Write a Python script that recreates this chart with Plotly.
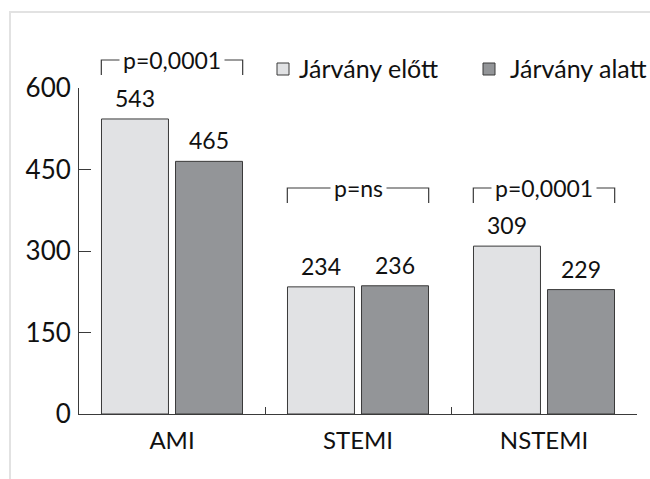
import plotly.graph_objects as go

categories = ["AMI", "STEMI", "NSTEMI"]
series_names = ["Járvány előtt", "Járvány alatt"]
before = [543, 234, 309]
during = [465, 236, 229]
p_values = ["p=0,0001", "p=ns", "p=0,0001"]
y_ticks = [0, 150, 300, 450, 600]

colors = ["#e1e2e4", "#939598"]
edge = "#3a3a3a"
font_family = "Lato"
W, H = 650, 479
PLOT_L, PLOT_R, PLOT_T, PLOT_B = 79, 637, 88, 414  # page pixel coords of plot area
ML, MR, MT, MB = PLOT_L, W - PLOT_R, PLOT_T, H - PLOT_B
PW, PH = PLOT_R - PLOT_L, PLOT_B - PLOT_T


def px2paper_x(px):
    return (px - PLOT_L) / PW


def px2paper_y(py):
    return (PLOT_B - py) / PH


fig = go.Figure()
for name, vals, col in zip(series_names, [before, during], colors):
    fig.add_trace(go.Bar(
        x=categories, y=vals, name=name,
        marker=dict(color=col, line=dict(color=edge, width=1)),
        showlegend=False, hoverinfo="skip",
    ))

shapes = []
annotations = []

# frame
frame_col = "#e2e2e2"
shapes.append(dict(type="line", xref="paper", yref="paper",
                   x0=px2paper_x(10), x1=px2paper_x(660), y0=px2paper_y(12), y1=px2paper_y(12),
                   line=dict(color=frame_col, width=2)))
shapes.append(dict(type="line", xref="paper", yref="paper",
                   x0=px2paper_x(10), x1=px2paper_x(10), y0=px2paper_y(11), y1=px2paper_y(490),
                   line=dict(color=frame_col, width=2)))

# value labels
half_slot = (1 - 0.204) / 4
for si, vals in enumerate([before, during]):
    off = -half_slot if si == 0 else half_slot
    for i, v in enumerate(vals):
        annotations.append(dict(x=i + off, y=v, xref="x", yref="y", text=str(v),
                                showarrow=False, yanchor="bottom", yshift=5,
                                font=dict(size=23, color="#111", family=font_family)))

# significance brackets
bracket_top_px = [60, 188, 188]
leg_px = 15
for i, (p, top) in enumerate(zip(p_values, bracket_top_px)):
    xl = (i + 0.5 - 0.38) / 3
    xr = (i + 0.5 + 0.38) / 3
    yt = px2paper_y(top)
    yb = px2paper_y(top + leg_px)
    shapes.append(dict(type="path", xref="paper", yref="paper",
                       path=f"M{xl},{yb} L{xl},{yt} L{xr},{yt} L{xr},{yb}",
                       line=dict(color=edge, width=1.2)))
    annotations.append(dict(x=(i + 0.5) / 3, y=yt, xref="paper", yref="paper", text=p,
                            showarrow=False, yanchor="middle", xanchor="center",
                            bgcolor="white", borderpad=3,
                            font=dict(size=23, color="#111", family=font_family)))

# manual legend
legend_items = [(277, 297), (483, 508)]
for (sq_x, tx), name, col in zip(legend_items, series_names, colors):
    shapes.append(dict(type="rect", xref="paper", yref="paper",
                       x0=px2paper_x(sq_x), x1=px2paper_x(sq_x + 12),
                       y0=px2paper_y(63), y1=px2paper_y(75),
                       fillcolor=col, line=dict(color=edge, width=1)))
    annotations.append(dict(x=px2paper_x(tx), y=px2paper_y(68), xref="paper", yref="paper",
                            text=name, showarrow=False, xanchor="left", yanchor="middle",
                            font=dict(size=25, color="#111", family=font_family)))

fig.update_layout(
    width=W, height=H, autosize=False,
    margin=dict(l=ML, r=MR, t=MT, b=MB),
    paper_bgcolor="white", plot_bgcolor="white",
    barmode="group", bargap=0.204, bargroupgap=0.095,
    font=dict(family=font_family, color="#111"),
    shapes=shapes, annotations=annotations,
    hovermode=False,
    xaxis=dict(type="category", range=[-0.5, 2.5], showline=True, linecolor=edge, linewidth=1,
               ticks="inside", ticklen=7, tickcolor=edge, tickson="boundaries",
               ticklabelstandoff=5, fixedrange=True,
               showgrid=False, zeroline=False, tickfont=dict(size=24, family=font_family, color="#111")),
    yaxis=dict(range=[0, 600], tickvals=y_ticks, showline=True, linecolor=edge, linewidth=1,
               ticks="inside", ticklen=12, tickcolor=edge, showgrid=False, zeroline=False,
               ticklabelstandoff=2, fixedrange=True,
               tickfont=dict(size=26, family=font_family, color="#111")),
)

fig.write_html(
    "out.html",
    config={"displayModeBar": False},
    post_script="document.body.style.margin='0';document.body.style.overflow='hidden';",
)
